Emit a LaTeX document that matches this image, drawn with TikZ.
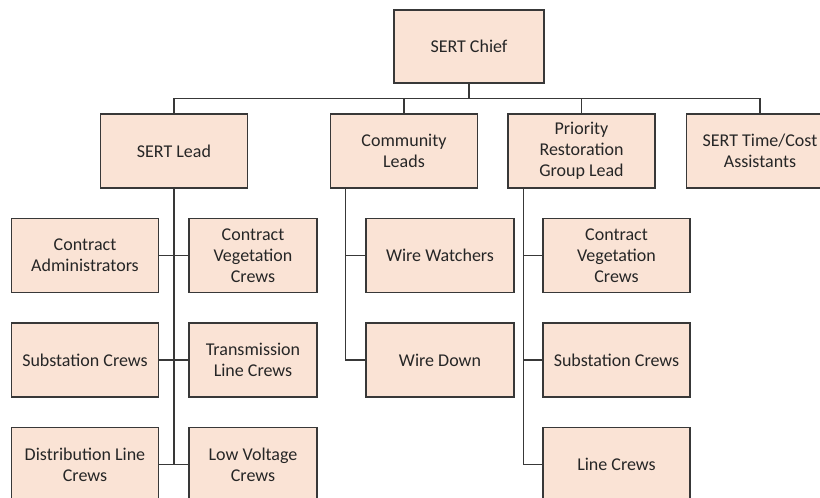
\documentclass[tikz,border=0pt]{standalone}
\usepackage{fontspec}
\setmainfont{Carlito}
\begin{document}
\begin{tikzpicture}[x=1pt,y=-1pt,
  box/.style={draw=linegray, line width=1.4pt, fill=boxfill, minimum width=147pt, minimum height=74pt, align=center, inner sep=1pt, font=\fontsize{18}{21}\selectfont, text=black!85},
  conn/.style={draw=linegray, line width=1.3pt}]
\definecolor{boxfill}{HTML}{FAE3D5}
\definecolor{linegray}{HTML}{383838}
\useasboundingbox (0,0) rectangle (820,498);
\clip (0,0) rectangle (820,498);
% top
\node[box, minimum width=150pt, minimum height=73pt] (chief) at (469,46.5) {SERT Chief};
\node[box] (lead) at (174,151) {SERT Lead};
\node[box] (cl) at (404,151) {Community\\Leads};
\node[box] (prg) at (581.5,151) {Priority\\Restoration\\Group Lead};
\node[box] (tca) at (760,151) {SERT Time/Cost\\Assistants};
% SERT Lead children
\node[box] (ca) at (85,255.5) {Contract\\Administrators};
\node[box, minimum width=128pt] (cvc) at (253,255.5) {Contract\\Vegetation\\Crews};
\node[box] (sc) at (85,360) {Substation Crews};
\node[box, minimum width=128pt] (tlc) at (253,360) {Transmission\\Line Crews};
\node[box] (dlc) at (85,464.5) {Distribution Line\\Crews};
\node[box, minimum width=128pt] (lvc) at (253,464.5) {Low Voltage\\Crews};
% Community children
\node[box, minimum width=148pt] (ww) at (440,255.5) {Wire Watchers};
\node[box, minimum width=148pt] (wd) at (440,360) {Wire Down};
% Priority children
\node[box, minimum width=147pt] (pcvc) at (616.5,255.5) {Contract\\Vegetation\\Crews};
\node[box, minimum width=147pt] (psc) at (616.5,360) {Substation Crews};
\node[box, minimum width=147pt] (plc) at (616.5,464.5) {Line Crews};
% connectors top
\draw[conn, line width=2.4pt] (chief.south) -- ++(0,15) coordinate (bar);
\draw[conn] (lead.north) |- (bar) -| (tca.north);
\draw[conn] (cl.north) -- (cl.north |- bar);
\draw[conn] (prg.north) -- (prg.north |- bar);
% SERT Lead tree
\draw[conn] (lead.south) -- (lead.south |- dlc.east);
\draw[conn] (ca.east) -- (cvc.west);
\draw[conn] (sc.east) -- (tlc.west);
\draw[conn] (dlc.east) -- (lvc.west);
% Community tree
\draw[conn] ([xshift=16pt]cl.south west) |- (ww.west);
\draw[conn] ([xshift=16pt]cl.south west) |- (wd.west);
% Priority tree
\draw[conn] ([xshift=16pt]prg.south west) |- (pcvc.west);
\draw[conn] ([xshift=16pt]prg.south west) |- (psc.west);
\draw[conn] ([xshift=16pt]prg.south west) |- (plc.west);
\end{tikzpicture}
\end{document}
